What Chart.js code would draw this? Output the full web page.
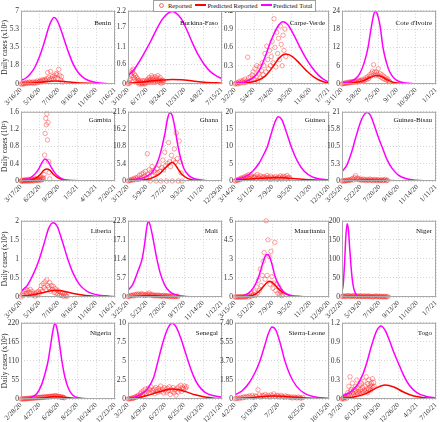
<!DOCTYPE html>
<html>
<head>
<meta charset="utf-8">
<script src="https://cdn.jsdelivr.net/npm/chart.js@4.4.1/dist/chart.umd.min.js"></script>
<style>
body { margin: 0; background: #fff; width: 440px; height: 422px; position: relative; overflow: hidden; font-family: "Liberation Serif", serif; }
canvas { position: absolute; }
#legend { position: absolute; left: 153px; top: 0; height: 10px; line-height: 10px; border: 1px solid #a0a0a0; background: #fff;
  font-size: 6.5px; padding: 0 3px 0 5px; white-space: nowrap; z-index: 5; color: #111; }
#legend .mk { display: inline-block; width: 3px; height: 3px; border: 0.8px solid rgba(255,40,40,0.7); border-radius: 50%; margin-right: 4px; vertical-align: 0; }
#legend .ln { display: inline-block; width: 11px; height: 2px; margin: 0 1px 0 2px; vertical-align: 2px; }
</style>
</head>
<body>
<div id="legend"><span class="mk"></span>Reported <span class="ln" style="background:#ff0000"></span>Predicted Reported <span class="ln" style="background:#ff00ff"></span>Predicted Total</div>
<script>
// panels in reading order
var countries = ["Benin", "Burkina-Faso", "Carpe-Verde", "Cote d'Ivoire",
                 "Gambia", "Ghana", "Guinea", "Guinea-Bisau",
                 "Liberia", "Mali", "Mauritania", "Niger",
                 "Nigeria", "Senegal", "Sierra-Leone", "Togo"];

var yTitles = ["Daily cases (x10\u00b2)", "", "", "",
               "Daily cases (10\u00b2)", "", "", "",
               "Daily cases (x10\u00b2)", "", "", "",
               "Daily cases (x10\u00b2)", "", "", ""];

var dateTicks = [
  ["3/16/20", "5/16/20", "7/16/20", "9/16/20", "11/16/20", "1/16/21"],
  ["3/10/20", "6/17/20", "9/24/20", "12/31/20", "4/8/21", "7/15/21"],
  ["3/2/20", "5/4/20", "7/4/20", "9/5/20", "11/6/20", "1/7/21"],
  ["3/11/20", "5/8/20", "7/5/20", "9/1/20", "10/30/20", "1/1/21"],
  ["3/17/20", "6/23/20", "9/29/20", "1/5/21", "4/13/21", "7/20/21"],
  ["3/12/20", "5/9/20", "7/7/20", "9/3/20", "11/1/20", "12/29/20"],
  ["3/14/20", "5/11/20", "7/9/20", "9/5/20", "11/3/20", "12/31/20"],
  ["3/25/20", "5/22/20", "7/20/20", "9/16/20", "11/14/20", "1/11/21"],
  ["3/16/20", "5/16/20", "7/16/20", "9/16/20", "11/16/20", "1/16/21"],
  ["3/25/20", "5/23/20", "7/20/20", "9/17/20", "11/14/20", "1/12/21"],
  ["3/15/20", "5/12/20", "7/9/20", "9/5/20", "11/2/20", "12/30/20"],
  ["3/22/20", "5/19/20", "7/16/20", "9/13/20", "11/10/20", "1/7/21"],
  ["2/28/20", "4/27/20", "6/26/20", "8/25/20", "10/24/20", "12/23/20"],
  ["3/2/20", "4/29/20", "6/27/20", "8/25/20", "10/23/20", "12/21/20"],
  ["4/2/20", "5/19/20", "7/2/20", "8/25/20", "10/15/20"],
  ["3/7/20", "6/13/20", "9/19/20", "12/26/20", "4/3/21", "7/10/21"]
];

var yTicks = [
  ["0", "1.8", "3.5", "5.3", "7"],
  ["0", "0.6", "1.1", "1.7", "2.2"],
  ["0", "0.3", "0.6", "0.9", "1.2"],
  ["0", "6", "12", "18", "24"],
  ["0", "0.4", "0.8", "1.2", "1.6"],
  ["0", "5.4", "10.8", "16.2", "21.6"],
  ["0", "5", "10", "15", "20"],
  ["0", "5.3", "10.5", "15.8", "21"],
  ["0", "0.5", "1", "1.5", "2"],
  ["0", "5.7", "11.4", "17.1", "22.8"],
  ["0", "1.5", "3", "4.5", "6"],
  ["0", "50", "100", "150", "200"],
  ["0", "55", "110", "165", "220"],
  ["0", "2.5", "5", "7.5", "10"],
  ["0", "1.85", "3.70", "5.55", "7.40"],
  ["0", "0.3", "0.6", "0.9", "1.2"]
];

// [days after first date tick, value]
var predTotal = [
  [[0,0.35],[15,0.55],[30,0.95],[45,1.6],[60,2.6],[75,3.9],[90,5.4],[100,6.1],[107,6.35],[115,6.2],[125,5.6],[140,4.3],[155,3.0],[170,1.9],[185,1.15],[200,0.68],[220,0.33],[245,0.14],[275,0.05],[306,0.02]],
  [[0,0.25],[30,0.42],[60,0.68],[90,0.98],[120,1.3],[150,1.65],[180,1.95],[210,2.13],[230,2.18],[250,2.14],[280,1.95],[310,1.6],[340,1.2],[370,0.85],[400,0.58],[430,0.38],[460,0.25],[492,0.16]],
  [[0,0.01],[30,0.03],[60,0.1],[80,0.22],[100,0.45],[120,0.72],[140,0.93],[159,1.02],[175,0.97],[195,0.8],[215,0.6],[235,0.42],[255,0.27],[275,0.15],[295,0.07],[311,0.03]],
  [[0,0.3],[20,0.6],[40,1.5],[55,3.2],[70,7.0],[82,12],[92,18.5],[100,22.8],[104,23.8],[110,23.2],[120,19],[129,12],[140,7],[150,4.0],[165,1.8],[180,0.8],[200,0.3],[230,0.1],[296,0.02]],
  [[0,0.02],[30,0.04],[60,0.11],[80,0.2],[95,0.3],[110,0.43],[125,0.51],[140,0.46],[155,0.34],[170,0.23],[190,0.12],[215,0.05],[250,0.015],[300,0.003],[490,0]],
  [[0,0.3],[30,0.6],[60,1.5],[80,3.5],[95,6.8],[106,10.8],[115,15],[123,19.5],[130,21.3],[137,20.5],[145,17],[155,11],[165,6.5],[175,3.6],[190,1.6],[210,0.6],[240,0.15],[292,0.02]],
  [[0,0.5],[30,1.2],[55,2.8],[75,5.2],[90,7.8],[100,9.8],[112,13.5],[124,17],[134,18.6],[145,17.8],[160,14],[177,9.3],[195,5.5],[215,2.8],[240,1.2],[265,0.55],[292,0.3]],
  [[0,2.8],[15,4.8],[30,8.8],[45,14],[60,18.5],[70,20.3],[78,20.8],[88,20],[100,17],[112,13.5],[124,10.5],[140,6.5],[155,3.9],[175,1.8],[200,0.7],[230,0.2],[260,0.06],[292,0.02]],
  [[0,0.15],[20,0.3],[40,0.6],[59,0.98],[75,1.4],[90,1.8],[104,1.95],[118,1.85],[135,1.45],[153,0.98],[170,0.62],[190,0.33],[215,0.15],[245,0.06],[275,0.03],[306,0.01]],
  [[0,2.0],[15,3.8],[30,7.5],[44,11.4],[52,16],[58,20.5],[63,22.6],[69,21.5],[77,18],[90,11.4],[100,7.3],[115,3.5],[130,1.6],[150,0.6],[180,0.15],[220,0.03],[293,0]],
  [[0,0.05],[30,0.15],[50,0.5],[65,1.1],[74,1.68],[85,2.6],[93,3.2],[99,3.35],[106,3.2],[115,2.5],[123,1.68],[135,0.95],[150,0.42],[170,0.14],[200,0.03],[290,0]],
  [[0,14],[4,35],[8,90],[12,160],[16,192],[20,175],[24,125],[28,80],[32,45],[36,24],[42,9],[50,2.5],[60,0.5],[80,0],[291,0]],
  [[0,1],[30,4],[50,15],[65,40],[77,75],[86,109],[95,160],[102,200],[108,218],[114,205],[122,162],[130,110],[140,62],[152,28],[165,11],[185,3],[220,0.5],[299,0]],
  [[0,0.1],[20,0.25],[40,0.6],[60,1.3],[80,2.8],[94,5.0],[105,6.8],[118,8.6],[130,9.7],[138,9.95],[150,9.5],[165,8.0],[178,6.3],[188,5.0],[205,3.0],[220,1.8],[240,0.9],[265,0.45],[294,0.25]],
  [[0,0.4],[15,0.8],[30,1.6],[42,2.6],[52,3.7],[62,5.2],[70,6.4],[77,7.0],[85,6.7],[95,5.3],[104,3.7],[115,2.3],[128,1.25],[145,0.55],[165,0.22],[196,0.07]],
  [[0,0.05],[40,0.1],[80,0.22],[110,0.4],[130,0.58],[155,0.85],[180,1.07],[203,1.15],[225,1.08],[250,0.9],[272,0.72],[292,0.58],[320,0.38],[350,0.22],[390,0.1],[440,0.04],[490,0.02]]
];

var predReported = [
  [[0,0.04],[40,0.1],[70,0.2],[95,0.27],[110,0.29],[130,0.26],[160,0.18],[200,0.09],[250,0.03],[306,0.01]],
  [[0,0.02],[60,0.05],[120,0.09],[180,0.12],[230,0.135],[280,0.125],[340,0.09],[400,0.055],[492,0.025]],
  [[0,0],[40,0.02],[70,0.05],[100,0.13],[125,0.28],[145,0.42],[168,0.49],[190,0.45],[215,0.33],[240,0.2],[265,0.1],[290,0.04],[311,0.02]],
  [[0,0.2],[40,0.5],[70,1.2],[90,2.2],[110,2.8],[125,2.4],[140,1.5],[160,0.6],[185,0.2],[220,0.05],[296,0]],
  [[0,0],[50,0.02],[80,0.07],[100,0.15],[120,0.25],[135,0.28],[150,0.25],[170,0.15],[195,0.07],[230,0.02],[300,0.003],[490,0]],
  [[0,0],[40,0.2],[70,0.8],[95,2.0],[115,4.0],[130,5.4],[137,5.8],[145,5.3],[155,3.8],[168,2.0],[185,0.8],[210,0.2],[292,0]],
  [[0,0.3],[50,0.6],[100,0.9],[134,1.0],[170,0.8],[210,0.5],[250,0.3],[292,0.2]],
  [[0,0.1],[50,0.25],[80,0.3],[120,0.25],[170,0.1],[230,0.03],[292,0]],
  [[0,0.02],[40,0.06],[80,0.13],[110,0.18],[135,0.16],[170,0.09],[210,0.04],[260,0.01],[306,0]],
  [[0,0.1],[40,0.3],[65,0.45],[100,0.3],[140,0.1],[200,0.02],[293,0]],
  [[0,0.01],[40,0.05],[65,0.25],[80,0.6],[95,1.05],[105,1.25],[115,1.15],[128,0.8],[145,0.4],[165,0.15],[195,0.03],[290,0]],
  [[0,1.5],[50,2.0],[100,1.8],[150,1.0],[200,0.4],[291,0.1]],
  [[0,0.5],[40,1.5],[80,4.5],[108,7],[130,6],[160,3],[200,0.8],[250,0.2],[299,0]],
  [[0,0],[30,0.15],[60,0.45],[90,0.85],[115,1.15],[138,1.3],[160,1.2],[185,0.9],[210,0.55],[240,0.25],[270,0.1],[294,0.05]],
  [[0,0.05],[40,0.15],[77,0.28],[110,0.22],[150,0.1],[196,0.03]],
  [[0,0.01],[60,0.03],[120,0.08],[170,0.16],[224,0.22],[270,0.19],[320,0.11],[370,0.05],[430,0.02],[490,0.01]]
];

// reported daily cases, one value every REP_STEP days from the first date tick
var REP_STEP = 3;
var reported = [
  [0,0,0.05,0,0.1,0.05,0.15,0.1,0.05,0.2,0.1,0.15,0.1,0.2,0.05,0.15, 0.2,0.1,0.3,0.15,0.25,0.3,0.2,0.4,0.3,0.35,0.45, 0.3,0.5,1.1,0.6,0.4,1.2,0.5,0.7,0.45,0.8,0.6, 1.0,0.9,0.5,1.4,0.85,0.4,0.7,0.2],
  [0,0.02,0.05,0.1,0.15,0.3,0.25,0.4,0.35,0.45,0.2,0.3,0.15,0.25,0.1,0.2,0.05,0.15,0.1,0,
   0.05,0.1,0,0.05,0.02,0.1,0,0.05,0.1,0.02,0,0.05,0.08,0.12,0.05,0.15,0.1,0.2,0.1,0.05,
   0.15,0.25,0.1,0.2,0.05,0.15,0.1,0.22,0.05,0.12,0.18,0.08,0.25,0.1,0.15,0.05,0.2,0.1,0.02,0.08,0.12,0.05,0.1],
  [0,0.01,0.02,0,0.03,0.01,0.05,0.02,0.04,0.06, 0.02,0.08,0.03,0.05,0.44,0.1,0.04,0.12,0.06,0.15,
   0.2,0.08,0.25,0.12,0.3,0.05,0.18,0.28,0.1,0.22, 0.35,0.15,0.3,0.5,0.2,0.62,0.4,0.25,0.55,0.3,
   0.45,0.7,0.35,1.07,0.6,0.28,0.85,0.5,0.75,0.4, 0.95,0.65,0.3,0.8,0.55,0.9,0.45],
  [0,0.1,0.2,0.3,0.2,0.5,0.3,0.6,0.4,0.7, 0.5,0.8,0.6,0.9,0.7,1.0,0.6,1.2,0.8,1.1,
   0.9,1.3,1.0,1.6,1.2,2.0,1.5,2.4,1.8,3.0, 2.5,3.5,4.2,6.3,3.8,2.8,4.0,3.2,5.0,2.6,
   3.4,2.2,3.0,1.8,2.5,1.5,2.0,1.2,1.6,1.0, 0.8],
  [0,0,0.01,0,0.02,0,0.01,0.03,0,0.02, 0.01,0,0.02,0.04,0,0.01,0.03,0,0.02,0.05,
   0.01,0.03,0,0.04,0.02,0.05,0.01,0.03,0.06,0.02, 0.04,0.01,0.05,0.03,0.07,0.02,0.05,0.04,0.08,0.05,
   0.15,0.6,1.1,1.45,1.3,1.55,0.95,1.35,0.45,0.2, 0.05],
  [0,0.1,0.3,0.2,0.5,0.3,0.8,0.4,1.0,0.6, 1.2,0.5,1.8,0.8,2.2,1.0,2.5,1.5,3.0,1.2,
   8.5,2.0,3.5,0,2.8,4.5,1.8,3.2,2.5,0, 3.8,2.6,5.0,3.0,0,4.2,6.5,3.5,9.0,4.8,
   0,5.5,12,6.0,4.5,8.0,0,6.5,10,5.8, 15,7.0,0,12.5,6.0,2.5,0],
  [0,0.1,0.3,0.2,0.5,0.4,0.8,0.6,1.0,0.7, 1.2,0.9,1.5,1.1,1.8,0.8,1.3,1.6,0.9,1.2,
   1.0,1.4,0.7,1.9,1.1,0.8,1.5,0.6,1.2,0.9, 1.3,0.7,1.0,1.6,0.8,1.1,0.5,1.4,0.9,0.6,
   1.0,0.7,1.3,0.8,0.5,1.1,0.9,1.5,0.6,1.0, 1.4,0.8,1.2,0.6,1.6,0.9,1.1,0.7],
  [0,0.05,0.1,0,0.2,0.1,0.3,0.15,0.4,0.2, 0.5,0.8,0.3,1.0,1.6,0.6,0.9,0.4,0.7,0.3,
   0.5,0.2,0.6,0.3,0.4,0.1,0.5,0.2,0.3,0.6, 0.2,0.4,0.1,0.3,0.5,0.2,0.1,0.4,0.3,0.1,
   0.2,0.4,0.1,0.3,0.2,0.5,0.1,0.2],
  [0,0.05,0.1,0.05,0.15,0.2,0.1,0.18,0.05,0.12, 0.2,0.1,0.15,0.05,0.1,0.02,0.08,0.12,0.05,0.15,
   0.1,0.2,0.3,0.15,0.35,0.25,0.4,0.2,0.45,0.3, 0.25,0.38,0.15,0.3,0.2,0.28,0.12,0.22,0.1,0.18,
   0.08,0.15,0.05,0.12,0.04,0.1,0.02,0.08,0.05,0.03, 0.02],
  [0.1,0.2,0.3,0.5,0.4,0.6,0.3,0.7,0.5,0.8, 0.6,0.9,0.5,0.7,1.0,0.6,0.8,0.4,0.7,0.5,
   0.9,0.6,1.2,0.7,0.5,0.8,0.4,0.6,0.3,0.5, 0.4,0.6,0.3,0.5,0.2,0.4,0.3,0.5,0.2,0.4,
   0.3,0.2,0.4,0.1,0.3,0.2,0.35,0.1,0.25,0.2, 0.15,0.3,0.1],
  [0,0,0,0.01,0,0.02,0,0,0.03,0, 0.02,0,0.05,0.1,0,0.15,0.05,0.3,0.1,0.2,
   0.4,0.1,0.8,0.3,1.3,0.5,2.2,0.9,1.7,2.8, 3.5,1.4,6.0,1.7,4.5,3.2,1.0,3.6,1.6,0.7,
   1.1,4.3,0.5,1.0,0.3,0.8,0.2,0.4,0.1,0.2],
  [1,2,3,2,1,3,4,2,3,1,2,3,2,4,1,2,3,2,1,3,2,1,2,3,1,2,1,3,2,1,2,1,0,2,1,3,1,2,0,1,2,1,0,1,2,0,1,1],
  [0,0,0.5,0.2,1,0.5,1.5,1,2,1.2, 2.5,1.8,3,2.2,3.5,2.8,4,3.2,4.5,3.5,
   5,4,5.5,4.5,6,5,6.5,5.5,7,6, 7.5,6.5,8,7,9,7.5,8.5,10,7,8, 6.5,7.5,6,5,5.5,4.5,3.5],
  [0,0.02,0.05,0.1,0.05,0.15,0.1,0.2,0.3,0.25, 0.4,0.5,0.35,0.7,0.9,0.6,1.1,0.8,1.3,0.7,
   1.0,1.4,0.8,1.2,1.6,0.9,1.1,1.3,0.7,1.5, 1.2,0.9,1.4,1.1,1.7,1.0,1.3,0.8,1.5,1.2,
   0.9,1.4,1.1,1.6,0.6,1.3,1.0,1.5,0.8,1.2, 0.5,1.4,0.9,1.6,1.2,1.8,1.0,1.5,1.3,1.7,1.4, 1.6],
  [0.02,0.05,0.1,0.05,0.15,0.1,0.2,0.15,0.25,0.2, 0.3,0.2,0.35,0.15,0.3,0.25,0.9,0.4,0.2,0.35,
   0.3,0.45,0.25,0.35,0.2,0.4,0.3,0.5,0.25,0.35, 0.3,0.2,0.35,0.25,0.15,0.3,0.2,0.25,0.15,0.2,
   0.1,0.2,0.15,0.1,0.2,0.12,0.08,0.15],
  [0,0.01,0.02,0,0.03,0.05,0.02,0.04,0.01,0.06, 0.1,0.05,0.2,0.08,0.35,0.12,0.15,0.05,0.25,0.1,
   0.08,0.15,0.05,0.12,0.2,0.1,0.3,0.08,0.18,0.12, 0.1,0.22,0.15,0.08,0.25,0.12,0.18,0.1,0.28,0.14,
   0.2,0.12,0.35,0.16,0.1,0.24,0.15,0.3,0.18,0.22, 0.14,0.25,0.2,0.32,0.18,0.26,0.2]
];

// page layout of the plot boxes
var colLeft = [21, 128, 235, 342], plotW = 94;
var rowTop = [10, 111, 220, 322], rowH = [74, 70, 77, 77];
var nameDy = [14, 10, 12.5, 12.5];
var padL = 4, padT = 4, padR = 6, xAxisH = 30;

Chart.defaults.font.family = '"Liberation Serif", "Times New Roman", serif';
Chart.defaults.color = "#333";

function dayNum(s) {
  var p = s.split("/");
  return Date.UTC(2000 + Number(p[2]), Number(p[0]) - 1, Number(p[1])) / 864e5;
}

function pts(list) {
  return list.map(function(p) { return { x: p[0], y: p[1] }; });
}

// box round the plot area and the country name
var boxPlugin = {
  id: "box",
  afterDraw: function(chart, args, opts) {
    var a = chart.chartArea, ctx = chart.ctx;
    ctx.save();
    ctx.strokeStyle = "#a8a8a8";
    ctx.lineWidth = 1;
    ctx.strokeRect(a.left + 0.5, a.top + 0.5, a.right - a.left - 1, a.bottom - a.top - 1);
    ctx.fillStyle = "#111";
    ctx.font = '7px "Liberation Serif"';
    ctx.textAlign = "right";
    ctx.fillText(opts.name, a.right - 4, a.top + opts.dy);
    ctx.restore();
  }
};

countries.forEach(function(name, i) {
  var col = i % 4, row = Math.floor(i / 4);
  var yw = col == 0 ? 21 : 16;
  var h = rowH[row];

  var cv = document.createElement("canvas");
  cv.width = padL + yw + plotW + padR;
  cv.height = padT + h + xAxisH;
  cv.style.left = (colLeft[col] - yw - padL) + "px";
  cv.style.top = (rowTop[row] - padT) + "px";
  document.body.appendChild(cv);

  var start = dayNum(dateTicks[i][0]);
  var xTickDays = dateTicks[i].map(function(s) { return dayNum(s) - start; });
  var yTickVals = yTicks[i].map(Number);
  var rep = reported[i].map(function(v, k) { return { x: k * REP_STEP, y: v }; });

  new Chart(cv, {
    type: "scatter",
    data: {
      datasets: [{
        label: "Reported",
        data: rep,
        showLine: false,
        pointRadius: 2.2,
        pointBorderWidth: 0.8,
        pointBorderColor: "rgba(255, 40, 40, 0.55)",
        pointBackgroundColor: "rgba(0, 0, 0, 0)",
        clip: false,
        order: 3
      }, {
        label: "Predicted Reported",
        data: pts(predReported[i]),
        showLine: true,
        borderColor: "#ff0000",
        borderWidth: 1.5,
        pointRadius: 0,
        cubicInterpolationMode: "monotone",
        order: 2
      }, {
        label: "Predicted Total",
        data: pts(predTotal[i]),
        showLine: true,
        borderColor: "#ff00ff",
        borderWidth: 1.5,
        pointRadius: 0,
        cubicInterpolationMode: "monotone",
        order: 1
      }]
    },
    options: {
      responsive: false,
      animation: false,
      devicePixelRatio: 1,
      layout: { padding: { left: padL, top: padT, right: padR, bottom: 0 } },
      plugins: {
        legend: { display: false },
        tooltip: { enabled: false },
        box: { name: name, dy: nameDy[row] }
      },
      scales: {
        x: {
          type: "linear",
          min: 0,
          max: xTickDays[xTickDays.length - 1],
          afterBuildTicks: function(s) { s.ticks = xTickDays.map(function(v) { return { value: v }; }); },
          afterFit: function(s) { s.height = xAxisH; s.paddingLeft = 0; s.paddingRight = 0; },
          ticks: {
            autoSkip: false, minRotation: 45, maxRotation: 45, padding: 2,
            font: { size: 7 }, color: "#333",
            callback: function(v, k) { return dateTicks[i][k]; }
          },
          grid: { color: "#d4d4d4", drawTicks: false },
          border: { display: false, dash: [1, 2] }
        },
        y: {
          min: 0,
          max: yTickVals[yTickVals.length - 1],
          afterBuildTicks: function(s) { s.ticks = yTickVals.map(function(v) { return { value: v }; }); },
          afterFit: function(s) { s.width = yw; s.paddingTop = 0; s.paddingBottom = 0; },
          ticks: {
            padding: 2, font: { size: 7.5 }, color: "#333",
            callback: function(v, k) { return yTicks[i][k]; }
          },
          title: {
            display: yTitles[i] != "",
            text: yTitles[i],
            font: { size: 7.5 },
            color: "#222",
            padding: { top: 1, bottom: 0 }
          },
          grid: { color: "#d4d4d4", drawTicks: false },
          border: { display: false, dash: [1, 2] }
        }
      }
    },
    plugins: [boxPlugin]
  });
});
</script>
</body>
</html>
